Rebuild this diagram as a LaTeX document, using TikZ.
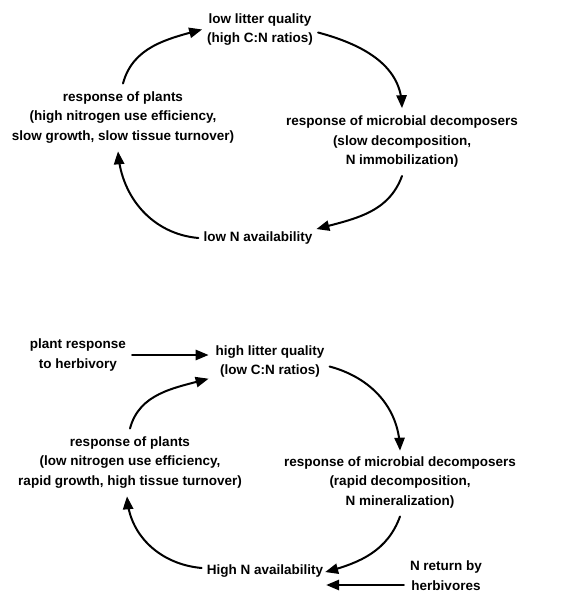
\documentclass[tikz,border=0pt]{standalone}
\usepackage{fontspec}
\setmainfont{Liberation Sans}
\usetikzlibrary{arrows}
\begin{document}
\begin{tikzpicture}[line cap=round,line join=round,>=triangle 45,x=1pt,y=1pt,
	lbl/.style={align=center,inner sep=2pt,font=\fontsize{13.5}{19.5}\selectfont\bfseries},
	cyc/.style={->,line width=2pt}]
	\useasboundingbox (0,0) rectangle (576,-594);
	% low N cycle
	\node[lbl] (lq1) at (260,-29.5) {low litter quality\\(high C:N ratios)};
	\node[lbl] (pl1) at (123,-117.5) {response of plants\\(high nitrogen use efficiency,\\slow growth, slow tissue turnover)};
	\node[lbl] (md1) at (402,-142) {response of microbial decomposers\\(slow decomposition,\\N immobilization)};
	\node[lbl] (na1) at (258,-238) {low N availability};
	\draw[cyc] ([yshift=6pt]pl1.north) to[out=75,in=195] ([xshift=-3pt]lq1.west);
	\draw[cyc] ([xshift=3pt,yshift=-3pt]lq1.east) to[out=-15,in=92] ([yshift=6pt]md1.north);
	\draw[cyc] ([yshift=-6pt]md1.south) to[out=-110,in=15] ([xshift=2pt,yshift=9pt]na1.east);
	\draw[cyc] ([xshift=-3pt]na1.west) to[out=175,in=-85] ([xshift=-5pt,yshift=-6pt]pl1.south);
	% high N cycle
	\node[lbl] (hr) at (78,-355) {plant response\\to herbivory};
	\node[lbl] (lq2) at (270,-361.5) {high litter quality\\(low C:N ratios)};
	\node[lbl] (pl2) at (130,-462.5) {response of plants\\(low nitrogen use efficiency,\\rapid growth, high tissue turnover)};
	\node[lbl] (md2) at (400,-482.5) {response of microbial decomposers\\(rapid decomposition,\\N mineralization)};
	\node[lbl] (na2) at (265,-571) {High N availability};
	\node[lbl] (nr) at (446,-575.5) {N return by\\herbivores};
	\draw[cyc] ([xshift=4pt]hr.east) -- ([xshift=-5pt]hr.east -| lq2.west);
	\draw[cyc] ([yshift=6pt]pl2.north) to[out=75,in=195] ([xshift=-5pt,yshift=1pt]lq2.south west);
	\draw[cyc] ([xshift=3pt,yshift=-5pt]lq2.east) to[out=-15,in=92] ([yshift=4pt]md2.north);
	\draw[cyc] ([yshift=-6pt]md2.south) to[out=-110,in=15] ([xshift=0pt,yshift=-1pt]na2.east);
	\draw[cyc] ([xshift=-3pt,yshift=3pt]na2.west) to[out=175,in=-85] ([xshift=-3pt,yshift=-6pt]pl2.south);
	\draw[cyc] ([xshift=-4pt,yshift=-9.5pt]nr.west) -- ([xshift=1pt,yshift=-9.5pt]nr.west -| na2.east);
\end{tikzpicture}
\end{document}
